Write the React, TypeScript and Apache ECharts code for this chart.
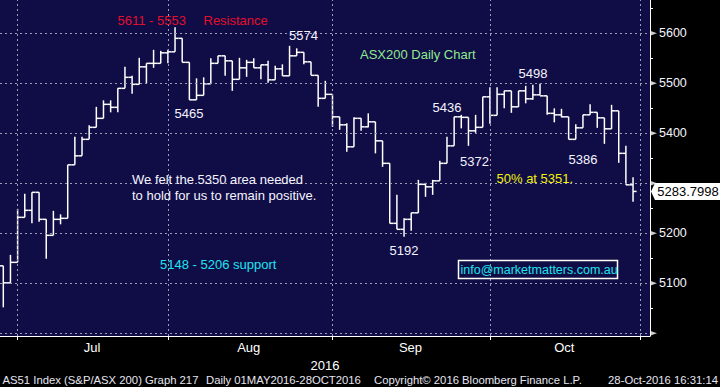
import React, { useEffect, useRef } from "react";
import * as echarts from "echarts";

// ASX200 (AS51) daily OHLC, trading days from 28-Jun-2016 (index 0) to 28-Oct-2016 (index 88)
const opens = [
  5135, 5101, 5142, 5232, 5246, 5282, 5228, 5196, 5228, 5230,
  5337, 5355, 5388, 5412, 5430, 5458, 5452, 5490, 5512, 5498,
  5533, 5540, 5540, 5561, 5563, 5590, 5542, 5467, 5476, 5499,
  5540, 5555, 5545, 5508, 5531, 5542, 5531, 5537, 5507, 5529,
  5515, 5555, 5562, 5543, 5516, 5470, 5478, 5433, 5417, 5373,
  5430, 5413, 5423, 5385, 5340, 5220, 5208, 5228, 5241, 5298,
  5293, 5305, 5340, 5375, 5433, 5432, 5405, 5412, 5473, 5436,
  5478, 5485, 5453, 5485, 5469, 5477, 5475, 5440, 5437, 5433,
  5388, 5411, 5437, 5442, 5431, 5409, 5445, 5360, 5297,
];
const highs = [
  5135, 5157, 5249, 5279, 5282, 5282, 5228, 5245, 5238, 5337,
  5393, 5393, 5416, 5453, 5466, 5466, 5490, 5533, 5515, 5551,
  5540, 5567, 5565, 5567, 5612, 5590, 5542, 5510, 5512, 5550,
  5555, 5555, 5545, 5551, 5547, 5550, 5537, 5545, 5535, 5538,
  5575, 5570, 5562, 5543, 5516, 5505, 5478, 5433, 5420, 5432,
  5430, 5440, 5423, 5385, 5340, 5277, 5230, 5241, 5307, 5301,
  5307, 5345, 5393, 5433, 5437, 5432, 5437, 5473, 5492, 5492,
  5485, 5485, 5485, 5495, 5497, 5499, 5475, 5450, 5449, 5433,
  5418, 5437, 5458, 5442, 5431, 5457, 5445, 5375, 5312,
];
const lows = [
  5052, 5101, 5142, 5232, 5220, 5223, 5149, 5196, 5218, 5230,
  5337, 5355, 5388, 5412, 5430, 5442, 5442, 5490, 5479, 5498,
  5500, 5531, 5540, 5540, 5563, 5542, 5467, 5467, 5476, 5499,
  5540, 5515, 5485, 5508, 5513, 5531, 5508, 5501, 5507, 5515,
  5515, 5555, 5538, 5516, 5453, 5470, 5413, 5407, 5363, 5373,
  5405, 5412, 5360, 5333, 5220, 5208, 5193, 5205, 5241, 5273,
  5277, 5305, 5340, 5375, 5410, 5375, 5401, 5412, 5419, 5436,
  5450, 5441, 5453, 5460, 5467, 5477, 5437, 5422, 5432, 5388,
  5388, 5411, 5437, 5411, 5379, 5409, 5341, 5297, 5263,
];
const closes = [
  5101, 5142, 5232, 5246, 5282, 5228, 5196, 5228, 5230, 5337,
  5355, 5388, 5412, 5430, 5458, 5452, 5490, 5512, 5498, 5533,
  5540, 5540, 5561, 5563, 5590, 5542, 5467, 5476, 5499, 5540,
  5555, 5545, 5508, 5531, 5542, 5531, 5537, 5507, 5529, 5515,
  5555, 5562, 5543, 5516, 5470, 5478, 5433, 5417, 5373, 5430,
  5413, 5423, 5385, 5340, 5220, 5208, 5228, 5241, 5298, 5293,
  5305, 5340, 5375, 5433, 5432, 5405, 5412, 5473, 5436, 5478,
  5485, 5453, 5485, 5469, 5477, 5475, 5440, 5437, 5433, 5388,
  5411, 5437, 5442, 5431, 5409, 5445, 5360, 5297, 5283.7998,
];

// x axis: month-end trading-day indices (30-Jun, 29-Jul, 31-Aug, 30-Sep, 31-Oct)
const monthEndIdx = [2, 23, 46, 68, 89];
const monthLabels = ["Jul", "Aug", "Sep", "Oct"];
const monthLabelPos = [12.4, 34.3, 56.9, 78.4];
const yearLabel = "2016";

// y axis (5300 sits under the last-price tag, as in the reference)
const gridLevels = [5000, 5100, 5200, 5300, 5400, 5500, 5600];
const priceLabels = [5100, 5200, 5400, 5500, 5600];
const minorTicks = [5050, 5150, 5250, 5350, 5450, 5550, 5650];

const noteTexts = [
  "5611 - 5553",
  "Resistance",
  "5465",
  "5574",
  "ASX200 Daily Chart",
  "5498",
  "5436",
  "5372",
  "5386",
  "50% at 5351.",
  "We felt the 5350 area needed",
  "to hold for us to remain positive.",
  "5192",
  "5148 - 5206 support",
  "info@marketmatters.com.au",
];
const footerTexts = [
  "AS51 Index (S&P/ASX 200) Graph 217",
  "Daily 01MAY2016-28OCT2016",
  "Copyright\u00A9 2016 Bloomberg Finance L.P.",
  "28-Oct-2016 16:31:14",
];

const X_MIN = -0.461;
const X_MAX = 90.37;
const Y_MIN = 4994.67;
const Y_MAX = 5666.67;

const FONT = "'Liberation Sans', Arial, Helvetica, sans-serif";
const WHITE = "#f4f4ff";
const RED = "#e3102c";
const GREEN = "#8fea8f";
const YELLOW = "#f2f20a";
const CYAN = "#1ee4f0";

export default function App() {
  const ref = useRef<HTMLDivElement>(null);

  useEffect(() => {
    document.body.style.margin = "0";
    const chart = echarts.init(ref.current!, undefined, { renderer: "svg" });
    const ohlc = opens.map((o, i) => [i, o, highs[i], lows[i], closes[i]]);
    const lastClose = closes[closes.length - 1];

    const t = (i: number, x: number, y: number, color: string, size = 13, align = "left") => ({
      type: "text",
      x,
      y,
      z: 50,
      silent: true,
      style: {
        text: noteTexts[i],
        fill: color,
        font: `${size}px ${FONT}`,
        textAlign: align,
        textVerticalAlign: "middle",
      },
    });
    const f = (i: number, x: number, align = "left") => ({
      type: "text",
      x,
      y: 379.5,
      z: 50,
      silent: true,
      style: {
        text: footerTexts[i],
        fill: "#e6e6f0",
        font: `11.3px ${FONT}`,
        textAlign: align,
        textVerticalAlign: "middle",
      },
    });

    const dash = { type: [2, 3], color: "#9c9cb4", width: 1 };

    chart.setOption({
      animation: false,
      backgroundColor: "#000000",
      grid: {
        left: 0,
        top: 0,
        width: 650,
        height: 336,
        show: true,
        backgroundColor: "#100c45",
        borderWidth: 0,
      },
      xAxis: {
        type: "value",
        min: X_MIN,
        max: X_MAX,
        axisLine: { show: true, onZero: false, lineStyle: { color: "#ffffff", width: 1 } },
        axisTick: { show: true, customValues: monthEndIdx, length: 4, lineStyle: { color: "#ffffff" } },
        axisLabel: {
          customValues: monthLabelPos,
          formatter: (v: number) => {
            const i = monthLabelPos.indexOf(v);
            return i >= 0 ? monthLabels[i] : "";
          },
          color: "#ffffff",
          fontSize: 13,
          fontFamily: FONT,
          margin: 5,
        },
        splitLine: { show: false },
        name: yearLabel,
        nameLocation: "middle",
        nameGap: 19,
        nameTextStyle: { color: "#ffffff", fontSize: 13, fontFamily: FONT },
      },
      yAxis: {
        type: "value",
        position: "right",
        min: Y_MIN,
        max: Y_MAX,
        axisLine: { show: true, onZero: false, lineStyle: { color: "#ffffff", width: 1 } },
        axisTick: { show: true, customValues: minorTicks, length: 3, lineStyle: { color: "#ffffff" } },
        axisLabel: {
          customValues: priceLabels,
          formatter: (v: number) => String(Math.round(v)),
          color: WHITE,
          fontSize: 12.5,
          fontFamily: FONT,
          margin: 9,
        },
        splitLine: { show: false },
      },
      series: [
        {
          type: "scatter",
          z: 1,
          clip: false,
          silent: true,
          symbol: "path://M0,0L8,3.5L0,7Z",
          symbolSize: [7, 5],
          symbolOffset: [3.5, 0],
          itemStyle: { color: "#ffffff" },
          data: gridLevels.map((v) => [X_MAX, v]),
          markLine: {
            silent: true,
            symbol: "none",
            label: { show: false },
            lineStyle: dash,
            data: [
              ...gridLevels.map((v) => ({ yAxis: v })),
              ...monthEndIdx.map((v) => ({ xAxis: v })),
            ],
          },
        },
        {
          type: "custom",
          z: 3,
          silent: true,
          dimensions: ["idx", "open", "high", "low", "close"],
          encode: { x: 0, y: [1, 2, 3, 4] },
          data: ohlc,
          renderItem: (_params: any, api: any) => {
            const k = api.value(0);
            const o = api.coord([k, api.value(1)]);
            const h = api.coord([k, api.value(2)]);
            const l = api.coord([k, api.value(3)]);
            const c = api.coord([k, api.value(4)]);
            const hw = api.size([1, 0])[0] / 2;
            const style = { stroke: "#ffffff", lineWidth: 1.5 };
            return {
              type: "group",
              children: [
                { type: "line", shape: { x1: h[0], y1: h[1], x2: l[0], y2: l[1] }, style },
                { type: "line", shape: { x1: o[0] - hw, y1: o[1], x2: o[0], y2: o[1] }, style },
                { type: "line", shape: { x1: c[0], y1: c[1], x2: c[0] + hw, y2: c[1] }, style },
              ],
            };
          },
          markPoint: {
            silent: true,
            symbol: "path://M0,8.5L4,0L69,0L69,17L4,17Z",
            symbolSize: [69, 17],
            symbolOffset: [35.5, 0],
            itemStyle: { color: "#ffffff" },
            label: {
              show: true,
              position: "inside",
              offset: [2.5, 0],
              color: "#000000",
              fontSize: 13,
              fontFamily: FONT,
              formatter: () => String(lastClose),
            },
            data: [{ coord: [X_MAX, lastClose], value: lastClose }],
          },
        },
      ],
      graphic: [
        t(0, 117.5, 20.5, RED),
        t(1, 203.5, 20.5, RED),
        t(2, 174.5, 113.5, WHITE),
        t(3, 289, 35, WHITE),
        t(4, 360, 54.5, GREEN),
        t(5, 518.5, 73, WHITE),
        t(6, 432.5, 107, WHITE),
        t(7, 460, 161, WHITE),
        t(8, 568.5, 159.5, WHITE),
        t(9, 496.5, 178.5, YELLOW),
        t(10, 132, 179.5, WHITE),
        t(11, 132, 195.5, WHITE),
        t(12, 389.5, 250, WHITE),
        t(13, 160, 264, CYAN),
        {
          type: "rect",
          z: 49,
          silent: true,
          shape: { x: 458.5, y: 260.5, width: 159, height: 18 },
          style: { fill: "none", stroke: "#ffffff", lineWidth: 1.5 },
        },
        t(14, 460.5, 270, CYAN, 12.5),
        f(0, 2.5),
        f(1, 206),
        f(2, 374),
        f(3, 718, "right"),
      ],
    });

    return () => chart.dispose();
  }, []);

  return (
    <div
      ref={ref}
      style={{ position: "fixed", left: 0, top: 0, width: 720, height: 387, background: "#000" }}
    />
  );
}
